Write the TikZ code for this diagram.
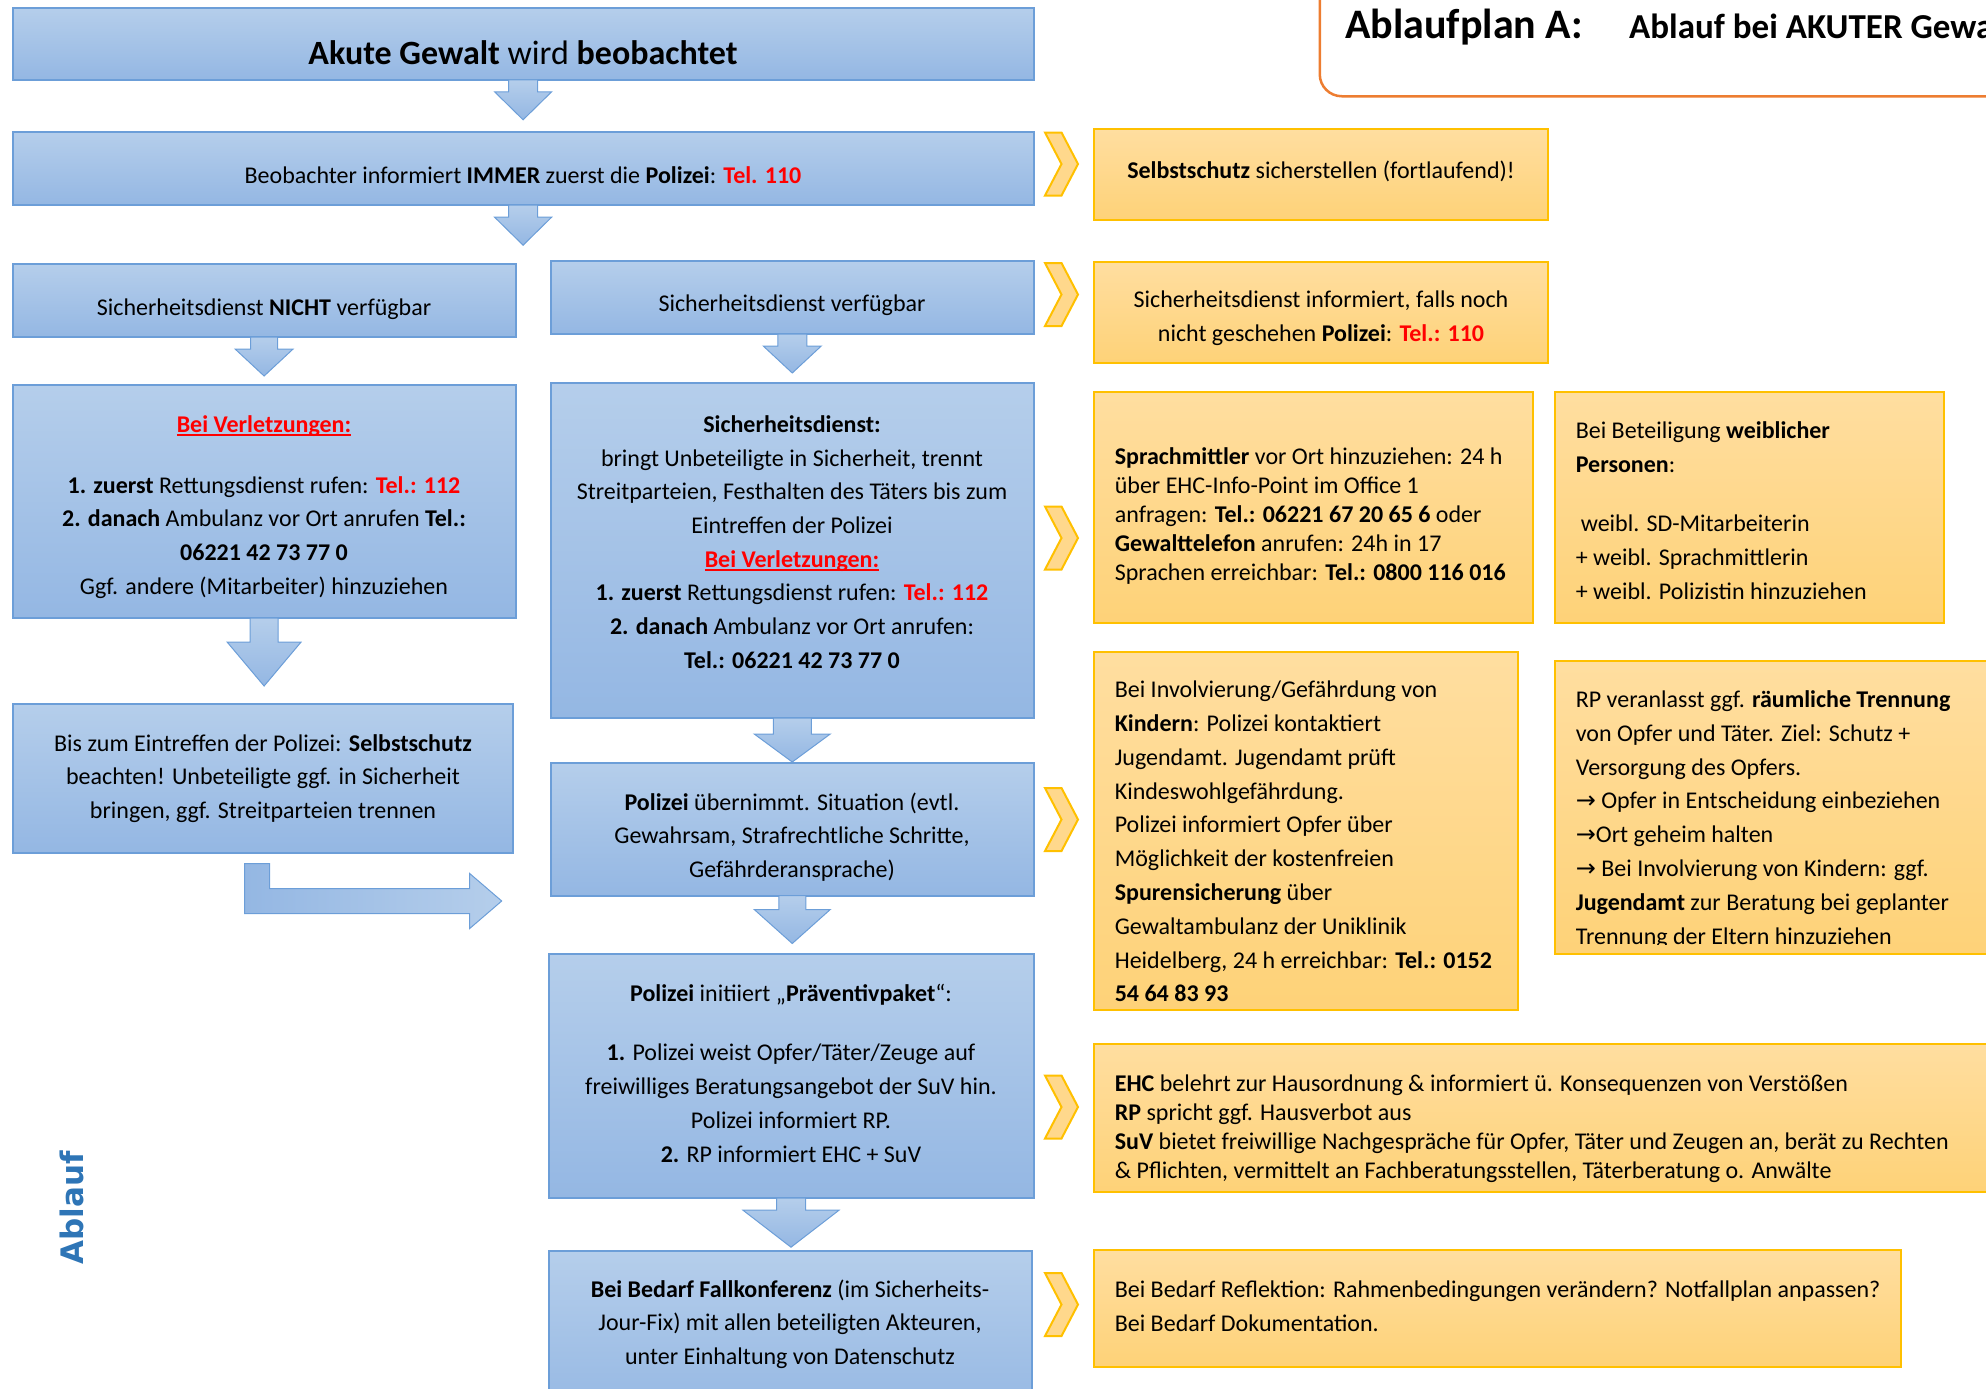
\documentclass[tikz,border=0pt]{standalone}
\usepackage{fontspec}
\setmainfont{Carlito}
\newfontfamily\symfont{DejaVu Sans}
\newfontfamily\ablfont{DejaVu Sans}
\usetikzlibrary{calc}
\definecolor{bluetop}{RGB}{181,206,235}
\definecolor{bluebot}{RGB}{148,183,227}
\definecolor{blueedge}{RGB}{108,158,216}
\definecolor{yeltop}{RGB}{255,222,160}
\definecolor{yelbot}{RGB}{254,210,120}
\definecolor{yeledge}{RGB}{255,192,0}
\definecolor{chevfill}{RGB}{255,216,140}
\definecolor{titleedge}{RGB}{237,125,49}
\definecolor{ablblue}{RGB}{46,117,182}
\definecolor{telred}{RGB}{255,0,0}
\newcommand\redul[1]{\setbox0\hbox{#1}\rlap{\rule[-3.5pt]{\wd0}{2.2pt}}\box0}
\newcommand\tel[1]{\textcolor{telred}{\textbf{#1}}}
\newcommand\arr{{\symfont →}}
\newcommand\blockdown[5]{%
  \path[barrow] ($(#1)+(-#3,0)$) -- ++(0,#2) -- ++(#3-#4,0) -- ++(#4,#5)
     -- ++(#4,-#5) -- ++(#3-#4,0) -- ++(0,-#2) -- cycle;}
\newcommand\chevron[1]{%
  \path[chev] (1045,#1-31.5) -- (1061.5,#1-31.5) -- (1078,#1) -- (1061.5,#1+31.5)
     -- (1045,#1+31.5) -- (1061.5,#1) -- cycle;}
\tikzset{
  bluebox/.style={draw=blueedge, line width=2pt, top color=bluetop, bottom color=bluebot,
    anchor=north west, inner sep=0pt, outer sep=0pt},
  yelbox/.style={draw=yeledge, line width=2pt, top color=yeltop, bottom color=yelbot,
    anchor=north west, inner sep=0pt, outer sep=0pt},
  btxt/.style={align=center, inner sep=0pt, font=\fontsize{24}{33.7}\selectfont,
    execute at begin node=\strut, execute at end node=\strut},
  ytxt/.style={align=left, inner sep=0pt, anchor=west, font=\fontsize{24}{#1}\selectfont,
    execute at begin node=\strut, execute at end node=\strut},
  ytxt/.default=33.8,
  barrow/.style={draw=blueedge, line width=1pt, top color=bluetop, bottom color=bluebot},
  chev/.style={draw=yeledge, line width=2pt, fill=chevfill},
}
\begin{document}
\begin{tikzpicture}[x=1pt,y=-1pt]
\useasboundingbox (0,0) rectangle (1986,1389);

% title box
\node[draw=titleedge, line width=2.5pt, rounded corners=22pt, minimum width=720pt,
  minimum height=140pt, anchor=south west, inner sep=0pt] (titlebox) at (1318.5,97.5) {};
\node[anchor=base west, inner sep=0pt, font=\fontsize{42}{50}\selectfont\bfseries] (titleA) at (1345,39) {Ablaufplan A:};
\node[anchor=base west, inner sep=0pt, font=\fontsize{35}{42}\selectfont\bfseries] (titleB) at (1629,39) {Ablauf bei AKUTER Gewalt};

% blue boxes
\node[bluebox, minimum width=1020.8pt, minimum height=72.2pt] (top) at (12.7,7.6) {};
\node[bluebox, minimum width=1020.8pt, minimum height=73.5pt] (beob) at (12.7,131.7) {};
\node[bluebox, minimum width=502.8pt, minimum height=73.5pt] (nicht) at (12.7,263.5) {};
\node[bluebox, minimum width=482.5pt, minimum height=73pt] (verf) at (551,261) {};
\node[bluebox, minimum width=502.8pt, minimum height=233pt] (verl) at (12.7,385) {};
\node[bluebox, minimum width=482.5pt, minimum height=335.5pt] (sich) at (551,382.5) {};
\node[bluebox, minimum width=500.3pt, minimum height=148.5pt] (bis) at (12.7,704) {};
\node[bluebox, minimum width=482.5pt, minimum height=133pt] (pol) at (551,762.5) {};
\node[bluebox, minimum width=485pt, minimum height=244.5pt] (init) at (548.5,953.7) {};
\node[bluebox, minimum width=483.5pt, minimum height=170pt] (fall) at (548.5,1251) {};

% blue arrows
\blockdown{top.south}{12}{14.5}{28.5}{28}
\blockdown{beob.south}{12}{14.5}{28.5}{28}
\blockdown{nicht.south}{12}{13.5}{29}{27}
\blockdown{verf.south}{12}{14.5}{29}{27}
\blockdown{verl.south}{24}{14}{37}{44}
\blockdown{sich.south}{16}{19}{38}{28}
\blockdown{pol.south}{14}{13.5}{38}{34}
\blockdown{init.south}{12}{14.5}{48}{37}
\path[draw=blueedge, line width=1pt, left color=bluebot, right color=bluetop]
  ($(bis.south west)+(232,11)$) coordinate (bendstart)
  -- ++(25,0) -- ++(0,25) -- ++(200,0) -- ++(0,-15) -- ++(32,27.5) -- ++(-32,27.5)
  -- ++(0,-15) -- ++(-225,0) -- cycle;

% blue texts
\node[btxt, font=\fontsize{34}{41}\selectfont] (ttop) at (523,56.5) {\textbf{Akute Gewalt} wird \textbf{beobachtet}};
\node[btxt] (tbeob) at (523,176.5) {Beobachter informiert \textbf{IMMER} zuerst die \textbf{Polizei}: \tel{Tel. 110}};
\node[btxt] (tnicht) at (264,308.5) {Sicherheitsdienst \textbf{NICHT} verfügbar};
\node[btxt] (tverf) at (792,304.5) {Sicherheitsdienst verfügbar};
\node[btxt] (tverl) at (264,510) {\textcolor{telred}{\textbf{\redul{Bei Verletzungen:}}}\\[27pt]
  \textbf{1. zuerst} Rettungsdienst rufen: \tel{Tel.: 112}\\
  \textbf{2. danach} Ambulanz vor Ort anrufen \textbf{Tel.:}\\
  \textbf{06221 42 73 77 0}\\
  Ggf. andere (Mitarbeiter) hinzuziehen};
\node[btxt] (tsich) at (792,547) {\textbf{Sicherheitsdienst:}\\
  bringt Unbeteiligte in Sicherheit, trennt\\
  Streitparteien, Festhalten des Täters bis zum\\
  Eintreffen der Polizei\\
  \textcolor{telred}{\textbf{\redul{Bei Verletzungen:}}}\\
  \textbf{1. zuerst} Rettungsdienst rufen: \tel{Tel.: 112}\\
  \textbf{2. danach} Ambulanz vor Ort anrufen:\\
  \textbf{Tel.: 06221 42 73 77 0}};
\node[btxt] (tbis) at (263,781.5) {Bis zum Eintreffen der Polizei: \textbf{Selbstschutz}\\
  beachten! Unbeteiligte ggf. in Sicherheit\\
  bringen, ggf. Streitparteien trennen};
\node[btxt] (tpol) at (792,840) {\textbf{Polizei} übernimmt. Situation (evtl.\\
  Gewahrsam, Strafrechtliche Schritte,\\
  Gefährderansprache)};
\node[btxt] (tinit) at (791,1078) {\textbf{Polizei} initiiert „\textbf{Präventivpaket}“:\\[26pt]
  \textbf{1.} Polizei weist Opfer/Täter/Zeuge auf\\
  freiwilliges Beratungsangebot der SuV hin.\\
  Polizei informiert RP.\\
  \textbf{2.} RP informiert EHC + SuV};
\node[btxt] (tfall) at (790,1327) {\textbf{Bei Bedarf Fallkonferenz} (im Sicherheits-\\
  Jour-Fix) mit allen beteiligten Akteuren,\\
  unter Einhaltung von Datenschutz};

% chevrons
\chevron{164}
\chevron{294.5}
\chevron{538}
\chevron{819.5}
\chevron{1107}
\chevron{1304.5}

% yellow boxes
\node[yelbox, minimum width=454pt, minimum height=91pt] (selb) at (1094,129) {};
\node[yelbox, minimum width=454pt, minimum height=101pt] (sdi) at (1094,261.5) {};
\node[yelbox, minimum width=439pt, minimum height=231pt] (spr) at (1094,391.5) {};
\node[yelbox, minimum width=389pt, minimum height=231pt] (bet) at (1554.5,391.5) {};
\node[yelbox, minimum width=424pt, minimum height=357.5pt] (inv) at (1094,652) {};
\node[yelbox, minimum width=450pt, minimum height=293pt] (rp) at (1554.5,660.5) {};
\node[yelbox, minimum width=910pt, minimum height=148pt] (ehc) at (1094,1043.5) {};
\node[yelbox, minimum width=806.5pt, minimum height=117pt] (refl) at (1094,1250) {};

% yellow texts
\node[btxt] (tselb) at (1321,171.5) {\textbf{Selbstschutz} sicherstellen (fortlaufend)!};
\node[btxt] (tsdi) at (1321,321.5) {Sicherheitsdienst informiert, falls noch\\
  nicht geschehen \textbf{Polizei}: \tel{Tel.: 110}};
\node[ytxt=29.2] (tspr) at (1114.6,518.5) {\textbf{Sprachmittler} vor Ort hinzuziehen: 24 h\\
  über EHC-Info-Point im Office 1\\
  anfragen: \textbf{Tel.: 06221 67 20 65 6} oder\\
  \textbf{Gewalttelefon} anrufen: 24h in 17\\
  Sprachen erreichbar: \textbf{Tel.: 0800 116 016}};
\node[ytxt] (tbet) at (1575.6,515.5) {Bei Beteiligung \textbf{weiblicher}\\
  \textbf{Personen}:\\[26pt]
  \hspace*{5pt}weibl. SD-Mitarbeiterin\\
  + weibl. Sprachmittlerin\\
  + weibl. Polizistin hinzuziehen};
\begin{scope}
\clip (1094,652) rectangle (1518,1001);
\node[ytxt] (tinv) at (1114.6,846.5) {Bei Involvierung/Gefährdung von\\
  \textbf{Kindern}: Polizei kontaktiert\\
  Jugendamt. Jugendamt prüft\\
  Kindeswohlgefährdung.\\
  Polizei informiert Opfer über\\
  Möglichkeit der kostenfreien\\
  \textbf{Spurensicherung} über\\
  Gewaltambulanz der Uniklinik\\
  Heidelberg, 24 h erreichbar: \textbf{Tel.: 0152}\\
  \textbf{54 64 83 93}};
\end{scope}
\begin{scope}
\clip (1554.5,660.5) rectangle (1990,944);
\node[ytxt] (trp) at (1575.6,822.5) {RP veranlasst ggf. \textbf{räumliche Trennung}\\
  von Opfer und Täter. Ziel: Schutz +\\
  Versorgung des Opfers.\\
  \arr{} Opfer in Entscheidung einbeziehen\\
  \arr{}Ort geheim halten\\
  \arr{} Bei Involvierung von Kindern: ggf.\\
  \textbf{Jugendamt} zur Beratung bei geplanter\\
  Trennung der Eltern hinzuziehen};
\end{scope}
\node[ytxt=29.2] (tehc) at (1114.6,1131) {\textbf{EHC} belehrt zur Hausordnung \& informiert ü. Konsequenzen von Verstößen\\
  \textbf{RP} spricht ggf. Hausverbot aus\\
  \textbf{SuV} bietet freiwillige Nachgespräche für Opfer, Täter und Zeugen an, berät zu Rechten\\
  \& Pflichten, vermittelt an Fachberatungsstellen, Täterberatung o. Anwälte};
\node[ytxt=34.2] (tref) at (1114.6,1311) {Bei Bedarf Reflektion: Rahmenbedingungen verändern? Notfallplan anpassen?\\
  Bei Bedarf Dokumentation.};

% side label
\node[rotate=90, inner sep=0pt, text=ablblue, font=\ablfont\bfseries\fontsize{31}{37}\selectfont] (abl) at (72,1208) {Ablauf};
\end{tikzpicture}
\end{document}
